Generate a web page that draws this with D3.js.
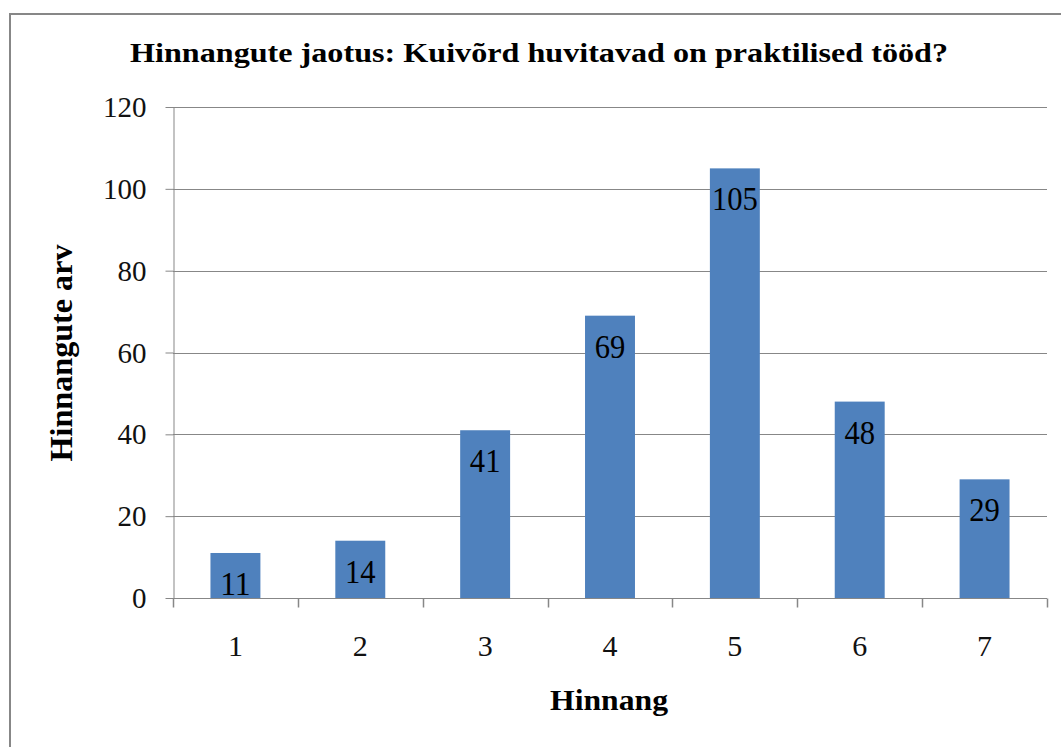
<!DOCTYPE html>
<html>
<head>
<meta charset="utf-8">
<script src="https://cdn.jsdelivr.net/npm/d3@7"></script>
<style>
  html, body { margin: 0; padding: 0; background: #fff; }
  svg { display: block; }
</style>
</head>
<body>
<svg id="chart" width="1061" height="747"></svg>
<script>
const categories = ["1", "2", "3", "4", "5", "6", "7"];
const counts = [11, 14, 41, 69, 105, 48, 29];
const yTicks = [0, 20, 40, 60, 80, 100, 120];
const titleText = "Hinnangute jaotus: Kuivõrd huvitavad on praktilised tööd?";
const yTitle = "Hinnangute arv";
const xTitle = "Hinnang";

const FONT = "Liberation Serif";
const svg = d3.select("#chart").style("font-family", FONT);
const plotLeft = 173, plotRight = 1047, plotTop = 107, plotBottom = 598;

// outer border (extends beyond right/bottom edge)
svg.append("rect")
  .attr("x", 10).attr("y", 14)
  .attr("width", 1070).attr("height", 760)
  .attr("fill", "none").attr("stroke", "#878787").attr("stroke-width", 2);

const x = d3.scaleBand().domain(categories).range([plotLeft, plotRight]).paddingInner(0.6).paddingOuter(0.3);
const y = d3.scaleLinear().domain([0, 120]).range([plotBottom, plotTop]);

// gridlines
svg.append("g").selectAll("line").data(yTicks.filter(d => d > 0)).join("line")
  .attr("x1", plotLeft).attr("x2", plotRight)
  .attr("y1", d => Math.round(y(d)) + 0.5).attr("y2", d => Math.round(y(d)) + 0.5)
  .attr("stroke", "#878787").attr("stroke-width", 1);

// bars
svg.append("g").selectAll("rect").data(counts).join("rect")
  .attr("x", (d, i) => x(categories[i]))
  .attr("width", x.bandwidth())
  .attr("y", d => y(d))
  .attr("height", d => y(0) - y(d))
  .attr("fill", "#4F81BD");

// data labels
svg.append("g").selectAll("text").data(counts).join("text")
  .attr("x", (d, i) => x(categories[i]) + x.bandwidth() / 2)
  .attr("y", d => y(d) + 42)
  .attr("text-anchor", "middle")
  .style("font-family", FONT)
  .attr("font-size", 34)
  .attr("textLength", d => String(d).length * 15.3)
  .attr("lengthAdjust", "spacingAndGlyphs")
  .attr("fill", "#000")
  .text(d => d);

// y axis
const yAxis = d3.axisLeft(y).tickValues(yTicks).tickSize(8).tickPadding(19).tickSizeOuter(0);
const gy = svg.append("g").attr("transform", `translate(${plotLeft + 0.5},0)`).call(yAxis);
gy.attr("font-family", null);
gy.select(".domain").attr("stroke", "#878787");
gy.selectAll(".tick line").attr("stroke", "#878787");
gy.selectAll(".tick text").style("font-family", FONT).attr("font-size", 29).attr("fill", "#111")
  .attr("dy", "0.33em");

// x axis with ticks at category boundaries
const gx = svg.append("g").attr("transform", `translate(0,${plotBottom + 0.5})`);
gx.append("line").attr("x1", plotLeft).attr("x2", plotRight).attr("stroke", "#878787");
const bounds = d3.range(categories.length + 1).map(i => plotLeft + i * (plotRight - plotLeft) / categories.length);
gx.selectAll("line.tk").data(bounds).join("line").attr("class", "tk")
  .attr("x1", d => Math.round(d) + 0.5).attr("x2", d => Math.round(d) + 0.5)
  .attr("y1", 0).attr("y2", 9).attr("stroke", "#878787").attr("stroke-width", 1.5);
gx.selectAll("text").data(categories).join("text")
  .attr("x", d => x(d) + x.bandwidth() / 2)
  .attr("y", 57)
  .attr("text-anchor", "middle")
  .style("font-family", FONT)
  .attr("font-size", 30)
  .attr("fill", "#111")
  .text(d => d);

// title
svg.append("text")
  .attr("x", 539).attr("y", 62)
  .attr("text-anchor", "middle")
  .style("font-family", FONT)
  .attr("font-size", 28).attr("font-weight", "bold")
  .attr("textLength", 818).attr("lengthAdjust", "spacingAndGlyphs")
  .text(titleText);

// y title
svg.append("text")
  .attr("transform", "translate(72,353) rotate(-90)")
  .attr("text-anchor", "middle")
  .style("font-family", FONT)
  .attr("font-size", 32).attr("font-weight", "bold")
  .attr("textLength", 217).attr("lengthAdjust", "spacingAndGlyphs")
  .text(yTitle);

// x title
svg.append("text")
  .attr("x", 609).attr("y", 710)
  .attr("text-anchor", "middle")
  .style("font-family", FONT)
  .attr("font-size", 30).attr("font-weight", "bold")
  .attr("textLength", 118).attr("lengthAdjust", "spacingAndGlyphs")
  .text(xTitle);
</script>
</body>
</html>
